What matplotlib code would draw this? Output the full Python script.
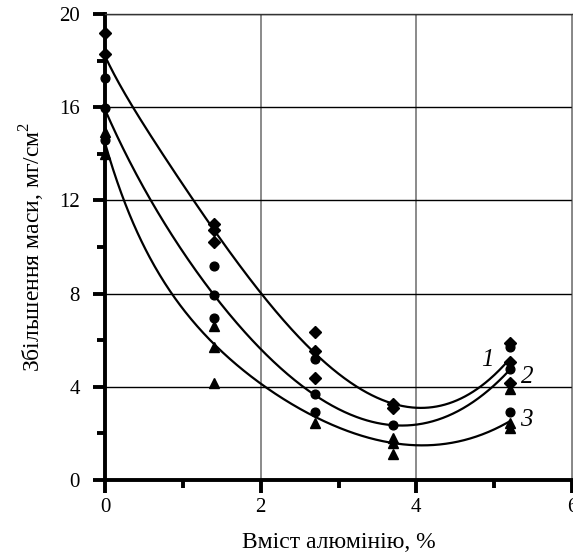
import numpy as np
import matplotlib.pyplot as plt
from matplotlib.ticker import MultipleLocator

plt.rcParams['font.family'] = ['Liberation Serif', 'DejaVu Serif']
plt.rcParams['mathtext.fontset'] = 'custom'
plt.rcParams['mathtext.rm'] = 'Liberation Serif'

# measured points (x = Al content, %)
x1 = [0, 0, 1.4, 1.4, 1.4, 2.7, 2.7, 2.7, 3.7, 3.7, 5.2, 5.2, 5.2]
y1 = [19.2, 18.27, 11.0, 10.73, 10.2, 6.37, 5.54, 4.39, 3.26, 3.08, 5.89, 5.08, 4.15]

x2 = [0, 0, 0, 1.4, 1.4, 1.4, 2.7, 2.7, 2.7, 3.7, 5.2, 5.2, 5.2]
y2 = [17.27, 15.95, 14.6, 9.18, 7.94, 6.97, 5.19, 3.69, 2.93, 2.36, 5.69, 4.75, 2.93]

x3 = [0, 0, 1.4, 1.4, 1.4, 2.7, 3.7, 3.7, 3.7, 5.2, 5.2, 5.2]
y3 = [14.95, 14.0, 6.62, 5.72, 4.18, 2.43, 1.79, 1.57, 1.12, 3.89, 2.43, 2.22]

# trend curves, points
xc1 = [0, 0.355, 1.144, 1.4, 2.0, 2.7, 3.7, 4.0, 4.5, 5.2]
c1 = [18.2, 16.0, 12.0, 10.73, 8.0, 5.54, 3.08, 3.03, 3.65, 5.12]
xc2 = [0, 0.587, 0.964, 1.4, 2.0, 2.7, 3.7, 4.0, 4.5, 5.2]
c2 = [15.9, 12.0, 10.0, 7.94, 5.58, 3.69, 2.32, 2.36, 2.93, 4.72]
xc3 = [0, 0.235, 0.887, 1.4, 2.0, 2.7, 3.7, 4.0, 4.5, 5.2]
c3 = [14.5, 12.0, 8.0, 5.72, 4.08, 2.86, 1.5, 1.43, 1.72, 2.5]


def smooth_fit(xk, yk, xs):
    # least squares: exp decay plus cubic, best decay rate by scan
    xk = np.asarray(xk, float)
    yk = np.asarray(yk, float)
    best = None
    for k in np.linspace(0.2, 4, 200):
        B = np.column_stack([np.exp(-k * xk), np.ones_like(xk), xk, xk**2, xk**3])
        coef, *_ = np.linalg.lstsq(B, yk, rcond=None)
        err = np.sum((B @ coef - yk) ** 2)
        if best is None or err < best[0]:
            best = (err, k, coef)
    _, k, coef = best
    Bs = np.column_stack([np.exp(-k * xs), np.ones_like(xs), xs, xs**2, xs**3])
    return Bs @ coef


fig = plt.figure(figsize=(5.73, 5.54), dpi=100)
ax = fig.add_axes([105/573, 1 - 480/554, 467/573, 466/554])

xs = np.linspace(0, 5.2, 400)
for xk, c in ((xc1, c1), (xc2, c2), (xc3, c3)):
    ax.plot(xs, smooth_fit(xk, c, xs), color='black', lw=1.6, zorder=3)

ax.plot(x1, y1, 'D', color='black', ms=5.8, zorder=4, clip_on=False)
ax.plot(x2, y2, 'o', color='black', ms=6.3, zorder=4, clip_on=False)
ax.plot(x3, y3, '^', color='black', ms=6.8, zorder=4, clip_on=False)

ax.text(4.91, 5.15, '1', fontsize=18, style='italic', ha='center', va='center')
ax.text(5.42, 4.43, '2', fontsize=18, style='italic', ha='center', va='center')
ax.text(5.41, 2.58, '3', fontsize=18, style='italic', ha='center', va='center')

ax.set_xlim(0, 6)
ax.set_ylim(0, 20)
ax.xaxis.set_major_locator(MultipleLocator(2))
ax.xaxis.set_minor_locator(MultipleLocator(1))
ax.yaxis.set_major_locator(MultipleLocator(4))
ax.yaxis.set_minor_locator(MultipleLocator(2))
ax.grid(axis='y', which='major', color='black', lw=1)
ax.grid(axis='x', which='major', color='#777777', lw=1.2)

for s in ('left', 'bottom'):
    ax.spines[s].set_linewidth(2.8)
ax.spines['top'].set_color('#333333')
ax.spines['top'].set_linewidth(1)
ax.spines['right'].set_color('#888888')
ax.spines['right'].set_linewidth(1)

ax.tick_params(which='major', direction='out', length=9, width=2.8,
               labelsize=15, top=False, right=False)
ax.tick_params(which='minor', direction='out', length=5.5, width=2.8,
               top=False, right=False)
ax.tick_params(axis='x', which='major', pad=4)
ax.tick_params(axis='y', which='major', pad=9)

ax.set_xlabel('Вміст алюмінію, %', fontsize=17, labelpad=11)
ax.set_ylabel('Збільшення маси, мг/см$^2$', fontsize=17, labelpad=9)

fig.savefig('out.png', dpi=100)
